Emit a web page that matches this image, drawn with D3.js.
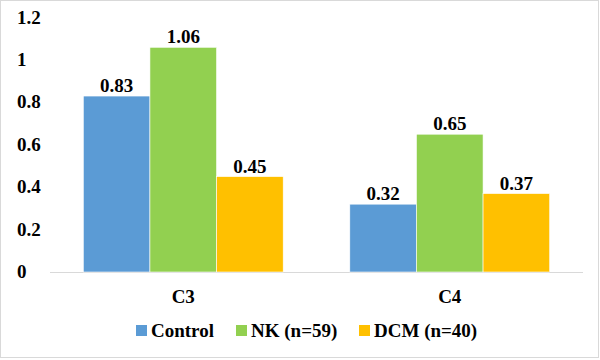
<!DOCTYPE html>
<html>
<head>
<meta charset="utf-8">
<script src="https://cdn.jsdelivr.net/npm/d3@7"></script>
<style>
  body { margin: 0; background: #fff; }
</style>
</head>
<body>
<svg id="viz" width="600" height="360" font-family="Liberation Serif" font-weight="bold"></svg>
<script>
var categories = ["C3", "C4"];
var seriesNames = ["Control", "NK (n=59)", "DCM (n=40)"];
var controlValues = [0.83, 0.32];
var nkValues = [1.06, 0.65];
var dcmValues = [0.45, 0.37];
var yTicks = [0, 0.2, 0.4, 0.6, 0.8, 1, 1.2];
var colors = ["#5B9BD5", "#92D050", "#FFC000"];

var seriesValues = [controlValues, nkValues, dcmValues];

var svg = d3.select("#viz");

// outer border
svg.append("rect")
  .attr("x", 0.5).attr("y", 0.5)
  .attr("width", 598).attr("height", 357)
  .attr("fill", "#fff").attr("stroke", "#d9d9d9");

var x0 = d3.scaleBand().domain(categories).range([50, 583]).paddingInner(0.25).paddingOuter(0.125);
var x1 = d3.scaleBand().domain(seriesNames).range([0, x0.bandwidth()]);
var y = d3.scaleLinear().domain([0, 1.2]).range([272, 17.6]);
var color = d3.scaleOrdinal().domain(seriesNames).range(colors);

// y labels, left aligned like the original
svg.selectAll("text.ylab")
  .data(yTicks)
  .enter().append("text")
    .attr("class", "ylab")
    .attr("x", 17)
    .attr("y", d => y(d) + 6)
    .attr("font-family", "Liberation Serif")
    .attr("font-weight", "bold")
    .attr("font-size", 19)
    .text(d => d);

// baseline
svg.append("line")
  .attr("x1", 50).attr("x2", 583)
  .attr("y1", y(0) + 0.5).attr("y2", y(0) + 0.5)
  .attr("stroke", "#d9d9d9");

var rows = [];
categories.forEach(function(c, i) {
  seriesNames.forEach(function(s, j) {
    rows.push({cat: c, series: s, value: seriesValues[j][i]});
  });
});

svg.selectAll("rect.bar")
  .data(rows)
  .enter().append("rect")
    .attr("class", "bar")
    .attr("x", d => x0(d.cat) + x1(d.series))
    .attr("y", d => y(d.value))
    .attr("width", x1.bandwidth())
    .attr("height", d => y(0) - y(d.value))
    .attr("fill", d => color(d.series))
    .attr("stroke", "#fff")
    .attr("stroke-width", 0.6);

svg.selectAll("text.val")
  .data(rows)
  .enter().append("text")
    .attr("class", "val")
    .attr("x", d => x0(d.cat) + x1(d.series) + x1.bandwidth() / 2)
    .attr("y", d => y(d.value) - 4)
    .attr("text-anchor", "middle")
    .attr("font-family", "Liberation Serif")
    .attr("font-weight", "bold")
    .attr("font-size", 19)
    .text(d => d.value.toFixed(2));

// category labels
svg.selectAll("text.cat")
  .data(categories)
  .enter().append("text")
    .attr("class", "cat")
    .attr("x", d => x0(d) + x0.bandwidth() / 2)
    .attr("y", 303)
    .attr("text-anchor", "middle")
    .attr("font-family", "Liberation Serif")
    .attr("font-weight", "bold")
    .attr("font-size", 19)
    .text(d => d);

// legend
var legendX = [136, 236, 359];
svg.selectAll("rect.key")
  .data(seriesNames)
  .enter().append("rect")
    .attr("class", "key")
    .attr("x", (d, i) => legendX[i])
    .attr("y", 325)
    .attr("width", 11).attr("height", 11)
    .attr("fill", d => color(d));

svg.selectAll("text.key")
  .data(seriesNames)
  .enter().append("text")
    .attr("class", "key")
    .attr("x", (d, i) => legendX[i] + 15)
    .attr("y", 337)
    .attr("font-family", "Liberation Serif")
    .attr("font-weight", "bold")
    .attr("font-size", 19)
    .text(d => d);
</script>
</body>
</html>
